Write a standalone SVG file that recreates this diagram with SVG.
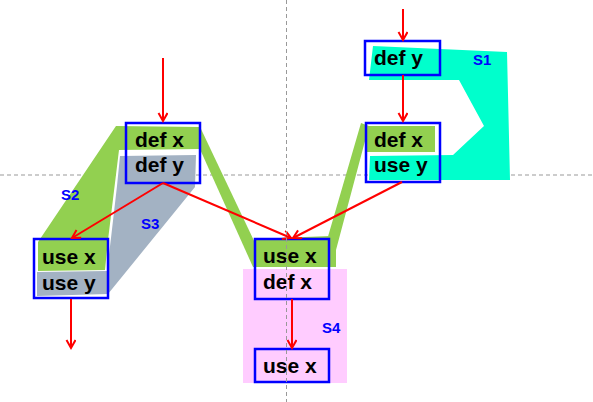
<svg xmlns="http://www.w3.org/2000/svg" width="593" height="402" viewBox="0 0 593 402">
<defs>
<style>
.g{fill:#92d050}
.gr{fill:#a3b2c3}
.cy{fill:#00ffcc}
.pk{fill:#ffccff}
.box{fill:none;stroke:#0000ff;stroke-width:2.5}
.t{font-family:"Liberation Sans",Arial,sans-serif;font-weight:bold;font-size:21px;fill:#000}
.lb{font-family:"Liberation Sans",Arial,sans-serif;font-weight:bold;font-size:15px;fill:#0000ff}
.ed{stroke:#ff0000;stroke-width:2;fill:none;marker-end:url(#ah)}
.dash{stroke:#999;stroke-width:1;stroke-dasharray:4 3;fill:none}
</style>
<marker id="ah" markerUnits="userSpaceOnUse" markerWidth="12" markerHeight="12" refX="9" refY="5" orient="auto">
<path d="M1,0.5 L9,5 L1,9.5" fill="none" stroke="#ff0000" stroke-width="2"/>
</marker>
</defs>
<rect width="593" height="402" fill="#fff"/>
<line class="dash" x1="0" y1="175" x2="593" y2="175"/>
<g id="regions">
<polygon class="pk" points="243,269 347,269 347,383 243,383"/>
<polygon class="cy" points="373,46 507,52 510,180 369,180 370,156 453,155 484,126 459,80 369,80"/>
<polygon class="g" points="116,126 200,127 200,149 119,150 108,240 105,270 38,271 38,242"/>
<polygon class="gr" points="120,156 196,155 195,187 108,294 37,296 37,272 107,271 111,238 117,186"/>
<polygon class="g" points="199,127 201,129 256,245 256,267 253,267 199,147"/>
<polygon class="g" points="255,239 330,236 336,250 336,267 254,267"/>
<polygon class="g" points="361,123 369,126 336,250 336,267 327,267 327,240"/>
<polygon class="g" points="366,126 435,126 435,152 367,152"/>
</g>
<g id="nA">
<rect class="box" x="126" y="123" width="74" height="60"/>
<text class="t" x="135" y="147">def x</text>
<text class="t" x="135" y="172">def y</text>
</g>
<g id="nB">
<rect class="box" x="34" y="239" width="74" height="59"/>
<text class="t" x="42" y="264">use x</text>
<text class="t" x="42" y="290">use y</text>
</g>
<g id="nC">
<rect class="box" x="255" y="239" width="74" height="60"/>
<text class="t" x="263" y="263">use x</text>
<text class="t" x="263" y="289">def x</text>
</g>
<g id="nD">
<rect class="box" x="255" y="349" width="74" height="33"/>
<text class="t" x="263" y="373">use x</text>
</g>
<g id="nE">
<rect class="box" x="365" y="41" width="75" height="34"/>
<text class="t" x="374" y="65">def y</text>
</g>
<g id="nF">
<rect class="box" x="366" y="123" width="74" height="59"/>
<text class="t" x="374" y="147">def x</text>
<text class="t" x="374" y="172">use y</text>
</g>
<g id="connectors">
<line class="ed" x1="163" y1="58" x2="163" y2="121"/>
<line class="ed" x1="403" y1="9" x2="403" y2="40"/>
<line class="ed" x1="403" y1="75" x2="403" y2="121"/>
<line class="ed" x1="163" y1="183" x2="72" y2="238"/>
<line class="ed" x1="163" y1="183" x2="291" y2="238"/>
<line class="ed" x1="402" y1="182" x2="293" y2="238"/>
<line class="ed" x1="71" y1="299" x2="71" y2="348"/>
<line class="ed" x1="292" y1="299" x2="292" y2="348"/>
</g>
<line class="dash" x1="286.5" y1="0" x2="286.5" y2="402"/>
<g id="labels">
<text class="lb" x="473" y="65">S1</text>
<text class="lb" x="61" y="200">S2</text>
<text class="lb" x="141" y="229">S3</text>
<text class="lb" x="322" y="333">S4</text>
</g>
</svg>
